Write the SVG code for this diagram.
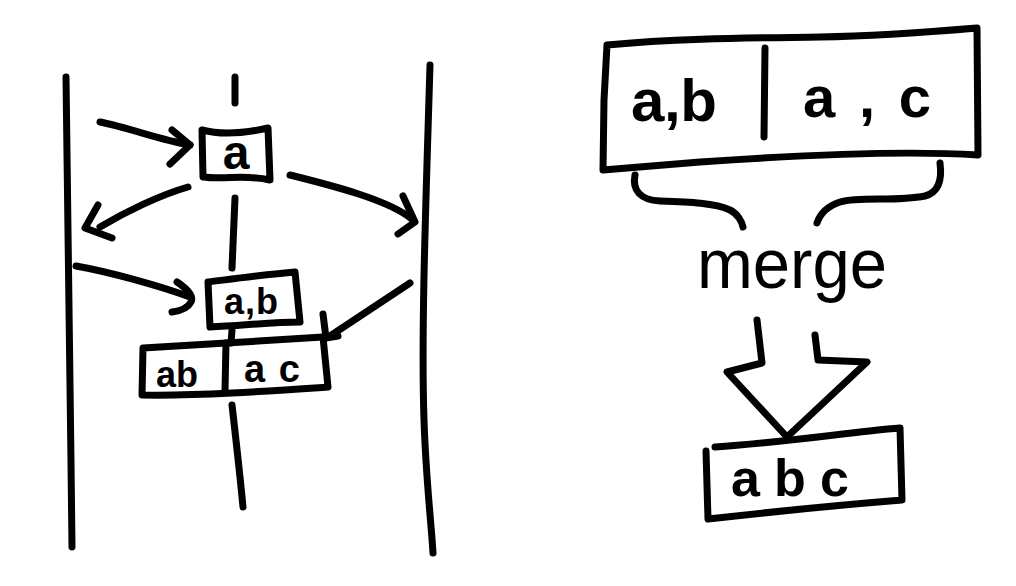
<svg xmlns="http://www.w3.org/2000/svg" width="1016" height="586" viewBox="0 0 1016 586">
<style>
.s{fill:none;stroke:#000;stroke-width:7;stroke-linecap:round;stroke-linejoin:round}
.t{font-family:"Liberation Sans",Arial,sans-serif;font-weight:bold;fill:#000;text-anchor:middle}
.m{font-family:"Liberation Sans",Arial,sans-serif;font-weight:normal;fill:#000;text-anchor:middle}
</style>
<rect width="1016" height="586" fill="#fff"/>
<g id="lanes">
<path class="s" d="M66,77 C68,200 70,380 72,547"/>
<path class="s" d="M430,65 C426,200 421,330 424,420 C426,480 431,520 433,553"/>
<path class="s" d="M235,77 L235,103"/>
</g>
<g id="connectors">
<path class="s" d="M100,122 C130,128 160,140 190,145"/>
<path class="s" d="M172,130 L190,145 L170,164"/>
<path class="s" d="M188,187 C160,195 125,212 100,227"/>
<path class="s" d="M98,205 L85,228 L112,238"/>
<path class="s" d="M290,175 C330,185 390,200 413,220"/>
<path class="s" d="M403,196 L415,222 L398,234"/>
<path class="s" d="M235,198 L232,268"/>
<path class="s" d="M76,266 C110,272 160,286 190,297"/>
<path class="s" d="M177,282 C186,288 194,296 191,302 C188,308 180,311 172,312"/>
<path class="s" d="M232,330 L231,343"/>
<path class="s" d="M410,283 L330,336"/>
<path class="s" d="M323,314 L326,338 L338,336"/>
<path class="s" d="M232,405 C236,440 240,475 243,507"/>
<path class="s" d="M635,175 C632,190 640,200 660,201 C690,202 715,203 730,210 C738,214 742,222 743,227"/>
<path class="s" d="M940,163 C942,178 940,192 925,196 C895,202 860,196 840,202 C828,206 820,214 817,223"/>
<path class="s" d="M757,320 L762,363 L727,372 L787,437 L867,362 L818,360 L815,335"/>
</g>
<g id="node-a">
<path class="s" d="M202,130 C225,136 250,132 268,128 L270,180 C245,174 225,180 203,177 Z"/>
<text class="t" x="236" y="169" font-size="48">a</text>
</g>
<g id="node-ab">
<path class="s" d="M208,282 C240,278 270,274 295,272 L300,322 C270,322 240,326 210,327 Z"/>
<text class="t" x="251" y="314" font-size="36" textLength="54" lengthAdjust="spacing">a,b</text>
</g>
<g id="node-ab-ac">
<path class="s" d="M143,348 C200,345 270,340 323,337 L328,387 C270,391 200,396 142,395 Z"/>
<path class="s" d="M226,343 L225,391"/>
<text class="t" x="177" y="387" font-size="36">ab</text>
<text class="t" x="272" y="382" font-size="38" textLength="56" lengthAdjust="spacing">ac</text>
</g>
<g id="node-big">
<path class="s" d="M607,45 C680,38 760,38 820,37 C880,36 930,32 977,28 L978,155 C900,150 800,155 700,162 C660,165 630,168 603,170 L604,100 M604,100 L607,45"/>
<path class="s" d="M765,48 L764,137"/>
<text class="t" x="674" y="121" font-size="60" textLength="86" lengthAdjust="spacing">a,b</text>
<text class="t" x="867" y="117" font-size="58" textLength="128" lengthAdjust="spacing">a , c</text>
</g>
<g id="label-merge">
<text class="m" x="792" y="288" font-size="70" textLength="190" lengthAdjust="spacingAndGlyphs">merge</text>
</g>
<g id="node-abc">
<path class="s" d="M715,447 C780,443 850,432 900,428 L902,500 C840,505 770,512 708,519 L706,451"/>
<text class="t" x="790" y="496" font-size="52" textLength="118" lengthAdjust="spacing">abc</text>
</g>
</svg>
